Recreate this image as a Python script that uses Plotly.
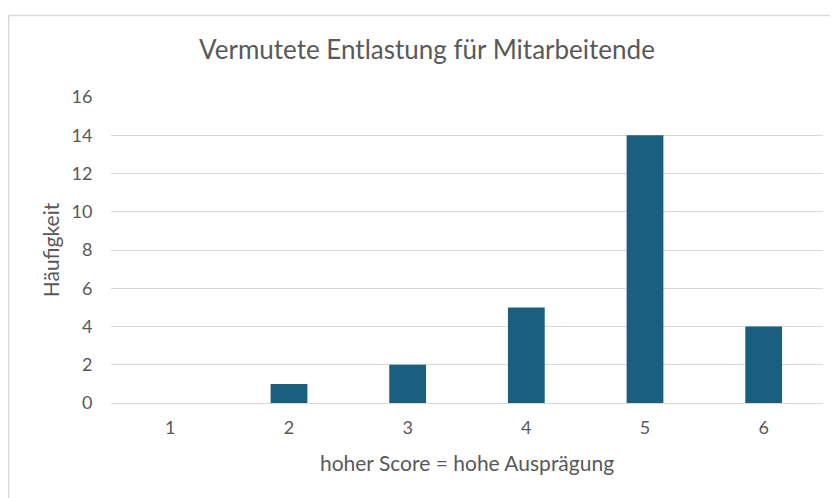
import plotly.graph_objects as go

categories = ["1", "2", "3", "4", "5", "6"]
values = [0, 1, 2, 5, 14, 4]
y_ticks = [0, 2, 4, 6, 8, 10, 12, 14, 16]

title_text = "Vermutete Entlastung für Mitarbeitende"
x_title = "hoher Score = hohe Ausprägung"
y_title = "Häufigkeit"

FONT = "Lato, Carlito, 'Open Sans', sans-serif"
TXT = "#595959"
GRID = "#D9D9D9"

OFF = 8  # browser body margin
W, H = 838 - OFF, 498 - OFF
L, R, T, B = 111 - OFF, 15, 97 - OFF, 95
pw = W - L - R
ph = H - T - B

fig = go.Figure(go.Bar(
    x=categories, y=values,
    marker=dict(color="#1A5F80", line=dict(width=0)),
    width=0.31,
))

fig.update_layout(
    width=W, height=H,
    margin=dict(l=L, r=R, t=T, b=B),
    paper_bgcolor="white", plot_bgcolor="white",
    font=dict(family=FONT, color=TXT, size=18),
    title=dict(text=title_text, x=(427 - 111) / pw, xref="paper", xanchor="center",
               y=1 - (50 - OFF) / H, yanchor="middle", yref="container",
               font=dict(size=26, color=TXT, family=FONT)),
    showlegend=False,
    xaxis=dict(
        type="category",
        showgrid=False, zeroline=False, showline=False,
        ticks="outside", ticklen=8, tickcolor="rgba(0,0,0,0)",
        tickfont=dict(size=18, color=TXT),
        title=dict(text=x_title, font=dict(size=21, color=TXT), standoff=19),
    ),
    yaxis=dict(
        range=[0, 16], tickvals=y_ticks,
        showgrid=True, gridcolor=GRID, gridwidth=1,
        zeroline=True, zerolinecolor=GRID, zerolinewidth=1,
        showline=False,
        ticks="outside", ticklen=14, tickcolor="rgba(0,0,0,0)",
        tickfont=dict(size=18, color=TXT),
        title=dict(text=y_title, font=dict(size=21, color=TXT), standoff=6),
    ),
    shapes=[
        dict(type="line", xref="paper", yref="paper",
             x0=(0.75 - L) / pw, x1=(0.75 - L) / pw,
             y0=-1.0, y1=(H - B - (15.5 - OFF)) / ph,
             line=dict(color=GRID, width=1.5)),
        dict(type="line", xref="paper", yref="paper",
             x0=(0.75 - L) / pw, x1=(W + 20 - L) / pw,
             y0=(H - B - (15.5 - OFF)) / ph, y1=(H - B - (15.5 - OFF)) / ph,
             line=dict(color=GRID, width=1.5)),
    ],
)

fig.write_html("out.html")
